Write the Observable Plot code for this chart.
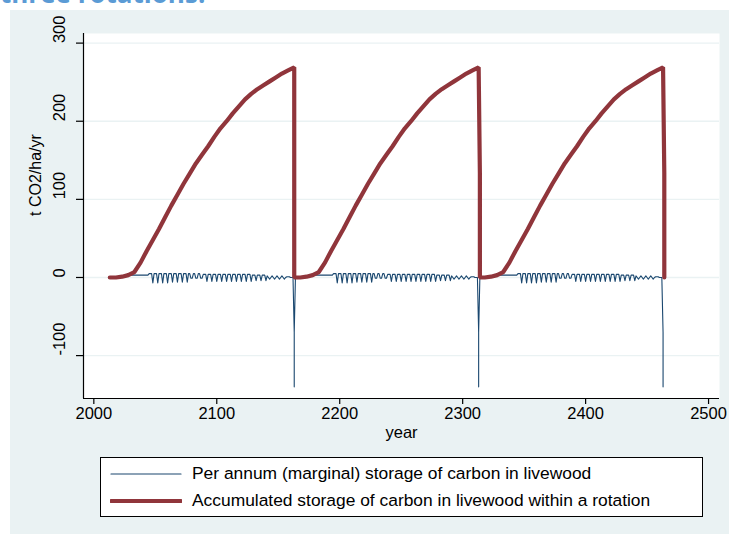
<!DOCTYPE html>
<html>
<head>
<meta charset="utf-8">
<script src="https://cdn.jsdelivr.net/npm/d3@7"></script>
<script src="https://cdn.jsdelivr.net/npm/@observablehq/plot@0.6"></script>
<style>
  html, body { margin: 0; padding: 0; background: #ffffff; }
  #wrap { position: relative; width: 729px; height: 534px; overflow: hidden; font-family: "Liberation Sans", Arial, sans-serif; }
  #panel { position: absolute; left: 10px; top: 10px; right: 0; bottom: 0; background: rgb(234,242,243); }
  #title { position: absolute; left: 0; top: -25px; font: bold 26px "Open Sans", "Liberation Sans", sans-serif; color: #5b9bd5; white-space: nowrap; }
  #chart { position: absolute; left: 0; top: 0; }
  #legend { position: absolute; left: 100px; top: 457px; width: 603px; height: 60px; background: #fff; border: 1px solid #000; box-sizing: border-box; }
  .row { position: absolute; left: 9px; display: flex; align-items: center; font-size: 17.4px; color: #000; white-space: nowrap; }
  .row svg { margin-right: 10px; }
</style>
</head>
<body>
<div id="wrap">
  <div id="panel"></div>
  <div id="title">three rotations:</div>
  <div id="chart"></div>
  <div id="legend"></div>
</div>
<script>
// ---------- data ----------
const seriesNames = [
  "Per annum (marginal) storage of carbon in livewood",
  "Accumulated storage of carbon in livewood within a rotation"
];
const seriesColors = ["#1a476f", "#90353b"];

const xTicks = [2000, 2100, 2200, 2300, 2400, 2500];
const yTicks = [-100, 0, 100, 200, 300];

// rotations (identical profile for each rotation)
const rotationStart = [2013, 2163, 2313];
const harvestYear   = [2163, 2313, 2463];
const harvestStep   = [null, 134, 134];   // intermediate value during the harvest drop (accumulated)
const harvestSpike  = [-70, -140, -70];   // per-annum values at harvest

// accumulated storage, by stand age (every 5 years)
const accumAge   = [0, 5, 10, 15, 20, 25, 30, 35, 40, 45, 50, 55, 60, 65, 70, 75, 80, 85, 90, 95, 100,
                    105, 110, 115, 120, 125, 130, 135, 140, 145, 150];
const accumValue = [0, 0, 1, 3, 7, 19, 34, 48, 62, 77, 92, 106, 120, 133, 146, 157, 168, 180, 191, 200, 210,
                    219, 228, 235, 241, 246, 251, 256, 261, 265, 269];

// per-annum storage, by stand age 0..149
const annualValue = [
  1, 1, 1, 1, 1, 1, 1, 1, 1, 1,
  2, 2, 2, 2, 3, 3, 3, 3, 3, 3, 3, 3, 3, 3, 3, 3, 3, 3, 3, 3, 3, 3,
  5, 5, 5, -7, 5, 5, 5, -7, 5, 5, 5, -7, 5, 5, 5, -7,
  5, 5, 5, -6, 5, 5, 5, -6, 5, 5, 5, -6, 5, 5, 5, -6,
  5, 5, -1, -1, 5, 5, -1, -1, 5, 5, -1, -1,
  4, 4, 4, -5, 4, 4, 4, -5, 4, 4, 4, -5, 4, 4, 4, -5, 4, 4, 4, -5,
  4, 4, 4, -5, 4, 4, 4, -5, 4, 4, 4, -5, 4, 4, 4, -5, 4, 4, 4, -5,
  3, 3, 3, -4, 3, 3, 3, -4, 3, 3, 3, -4,
  2, 0, -2, 0, 2, 0, -2, 0, 2, 0, -2, 0, 2, 0, -2, 0,
  1, 1, 1, 0, 0, 0
];

// ---------- build tables ----------
const redRows = [];
const blueRows = [];
rotationStart.forEach((s, r) => {
  accumAge.forEach((a, i) => {
    if (r > 0 && a === 0) return;
    redRows.push({year: s + a, value: accumValue[i]});
  });
  const H = harvestYear[r];
  if (harvestStep[r] !== null) {
    redRows.push({year: H + 1, value: harvestStep[r]});
    redRows.push({year: H + 1, value: 0});
  } else {
    redRows.push({year: H, value: 0});
  }
  annualValue.forEach((v, a) => {
    if (r > 0 && a === 0) return;
    blueRows.push({year: s + a, value: v});
  });
  harvestSpike.forEach(v => blueRows.push({year: H, value: v}));
});

const xDomain = [1991.6, 2508.9];
const yDomain = [-154.9, 312.3];

const chart = Plot.plot({
  width: 729,
  height: 450,
  marginLeft: 83,
  marginRight: 10,
  marginTop: 33,
  marginBottom: 52,
  x: {domain: xDomain, label: null},
  y: {domain: yDomain, label: null},
  style: {background: "transparent", fontFamily: "'Liberation Sans', Arial, sans-serif", fontSize: "16.5px", color: "#000", overflow: "visible"},
  marks: [
    Plot.frame({fill: "white", stroke: null}),
    Plot.gridY(yTicks, {stroke: "rgb(234,242,243)", strokeOpacity: 1, strokeWidth: 1.3}),
    Plot.line(blueRows, {x: "year", y: "value", stroke: seriesColors[0], strokeWidth: 1.1}),
    Plot.line(redRows, {x: "year", y: "value", stroke: seriesColors[1], strokeWidth: 4.2, strokeLinejoin: "miter"}),
    Plot.ruleX([xDomain[0]], {stroke: "#000", strokeWidth: 1.2}),
    Plot.ruleY([yDomain[0]], {stroke: "#000", strokeWidth: 1.2}),
    Plot.axisY({ticks: yTicks, tickSize: 7, tickFormat: () => "", stroke: "#000", strokeWidth: 1.2}),
    Plot.text(yTicks, {y: d => d, text: d => String(d), frameAnchor: "left", dx: -24, rotate: -90, fontSize: 16.5, fill: "#000"}),
    Plot.axisX({ticks: xTicks, tickSize: 6, tickPadding: 3, tickFormat: d => String(d), fontSize: 16.5, stroke: "#000", strokeWidth: 1.2}),
    Plot.text(["year"], {frameAnchor: "bottom", dy: 39, fontSize: 16.5, fill: "#000"}),
    Plot.text(["t CO2/ha/yr"], {frameAnchor: "left", dx: -48, rotate: -90, fontSize: 16, fill: "#000"})
  ]
});
document.getElementById("chart").appendChild(chart);

// legend
const legend = document.getElementById("legend");
seriesNames.forEach((name, i) => {
  const row = document.createElement("div");
  row.className = "row";
  row.style.top = (i === 0 ? 5 : 32) + "px";
  const w = i === 0 ? 1.2 : 4;
  row.innerHTML = `<svg width="72" height="20"><line x1="1" x2="71" y1="10" y2="10" stroke="${seriesColors[i]}" stroke-width="${w}" stroke-linecap="round"/></svg><span>${name}</span>`;
  legend.appendChild(row);
});
</script>
</body>
</html>
